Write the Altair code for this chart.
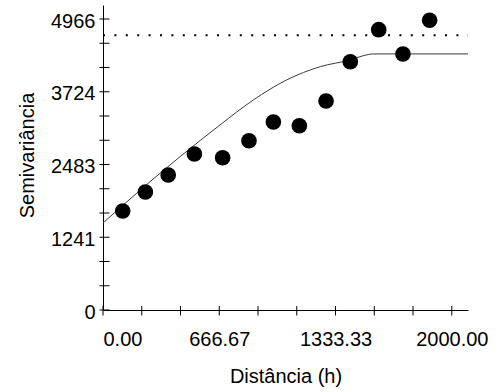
import altair as alt
import pandas as pd

# Experimental semivariogram: lag distance (h) and semivariance
lag_h = [113, 243, 374, 524, 686, 837, 977, 1126, 1279, 1418, 1581, 1720, 1873]
semivar = [1690, 2014, 2304, 2662, 2599, 2889, 3208, 3145, 3567, 4237, 4784, 4369, 4944]

# Fitted model curve, sampled along the distance axis
model_h = [0, 270, 442, 671, 862, 1053, 1246, 1416, 1493, 1550, 2093]
model_gamma = [1485, 2190, 2617, 3158, 3584, 3926, 4153, 4267, 4340, 4370, 4370]

# Sample variance (dotted reference line)
sample_variance = [4688]

# Axis ticks and labels
x_ticks = [0, 222.22, 444.44, 666.67, 888.89, 1111.11, 1333.33, 1555.56, 1777.78, 2000]
x_labels = [0, 666.67, 1333.33, 2000]
y_ticks = [0, 413.8, 827.7, 1241.5, 1655.3, 2069.2, 2483, 2896.8, 3310.7, 3724.5,
           4138.3, 4552.2, 4966]
y_labels = [0, 1241, 2483, 3724, 4966]

X_MAX = 2093
Y_MAX = 5205
FONT = "Liberation Sans"

pts = pd.DataFrame({"h": lag_h, "gamma": semivar})
model = pd.DataFrame({"h": model_h, "gamma": model_gamma})
sill = pd.DataFrame({"gamma": sample_variance})
xt = pd.DataFrame({"h": x_ticks})
yt = pd.DataFrame({"gamma": y_ticks})

x_axis = alt.Axis(
    values=x_labels, format=".2f", ticks=False, tickSize=0, grid=False,
    domainColor="black", domainWidth=1,
    labelFont=FONT, labelFontSize=20, labelColor="black", labelPadding=19,
    title="Distância (h)", titleFont=FONT, titleFontSize=20,
    titleFontWeight="normal", titleColor="black",
    titleY=72, titleBaseline="alphabetic",
)
y_axis = alt.Axis(
    values=y_labels, format="d", ticks=False, tickSize=0, grid=False,
    domainColor="black", domainWidth=1,
    labelFont=FONT, labelFontSize=20, labelColor="black", labelPadding=8,
    labelOffset=2,
    title="Semivariância", titleFont=FONT, titleFontSize=20,
    titleFontWeight="normal", titleColor="black",
    titleAngle=270, titleX=-70, titleY=150, titleBaseline="alphabetic",
    titleAlign="center",
)

xs = alt.Scale(domain=[0, X_MAX], nice=False, zero=False)
ys = alt.Scale(domain=[0, Y_MAX], nice=False, zero=False)

X = alt.X("h:Q", scale=xs, axis=x_axis)
Y = alt.Y("gamma:Q", scale=ys, axis=y_axis)

points = alt.Chart(pts).mark_circle(size=245, color="black", opacity=1).encode(x=X, y=Y)

curve = alt.Chart(model).mark_line(
    color="#3a3a3a", strokeWidth=1, interpolate="monotone"
).encode(x=X, y=Y)

sill_line = alt.Chart(sill).mark_rule(
    color="black", strokeWidth=2, strokeDash=[2, 9.4]
).encode(y=Y, x=alt.value(0), x2=alt.value(365))

x_tick_marks = alt.Chart(xt).mark_rule(color="black", strokeWidth=1).encode(
    x=X, y=alt.value(301), y2=alt.value(310.5)
)
y_tick_marks = alt.Chart(yt).mark_rule(color="black", strokeWidth=1).encode(
    y=Y, x=alt.value(-3.5), x2=alt.value(6.5)
)

chart = alt.layer(sill_line, curve, x_tick_marks, y_tick_marks, points).properties(
    width=365,
    height=305,
    autosize=alt.AutoSizeParams(type="none"),
    padding={"left": 103, "top": 5, "right": 30, "bottom": 77},
    background="white",
).configure_view(stroke=None)

chart.save("out.html", embed_options={"renderer": "svg", "actions": False})
